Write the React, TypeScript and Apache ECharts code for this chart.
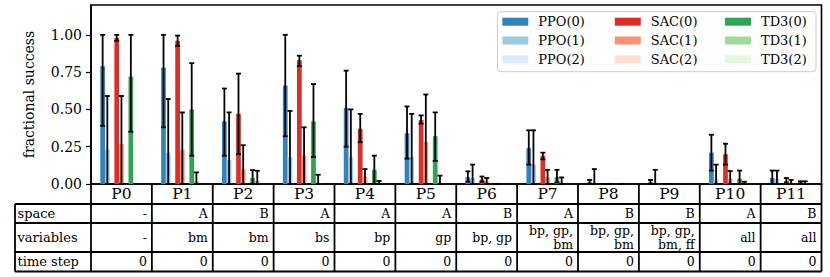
import React, { useEffect, useRef } from "react";
import * as echarts from "echarts";

// ---------- data ----------
const categories = ["P0", "P1", "P2", "P3", "P4", "P5", "P6", "P7", "P8", "P9", "P10", "P11"];
const seriesNames = ["PPO(0)", "PPO(1)", "PPO(2)", "SAC(0)", "SAC(1)", "SAC(2)", "TD3(0)", "TD3(1)", "TD3(2)"];
const seriesColors = ["#3182bd", "#9ecae1", "#deebf7", "#de2d26", "#fc9272", "#fee0d2", "#31a354", "#a1d99b", "#e5f5e0"];

const ppo0 = [0.79, 0.78, 0.42, 0.66, 0.51, 0.34, 0.045, 0.24, 0.013, 0.013, 0.21, 0.04];
const ppo0Err = [[0.39, 1.0], [0.38, 1.0], [0.19, 0.64], [0.32, 1.0], [0.25, 0.76], [0.17, 0.52], [0.015, 0.085], [0.13, 0.36], [0, 0.027], [0, 0.027], [0.09, 0.33], [0, 0.09]];
const ppo1 = [0.23, 0.21, 0.16, 0.18, 0.18, 0.18, 0.04, 0.13, 0.01, 0.01, 0.03, 0.033];
const ppo1Err = [[0, 0.59], [0, 0.57], [0, 0.48], [0, 0.49], [0, 0.5], [0, 0.47], [0, 0.13], [0, 0.36], [0, 0.1], [0, 0.095], [0, 0.13], [0, 0.09]];
const ppo2 = [null, null, null, null, null, null, null, null, null, null, null, null];
const ppo2Err = [null, null, null, null, null, null, null, null, null, null, null, null];

const sac0 = [0.98, 0.96, 0.47, 0.83, 0.37, 0.43, 0.03, 0.19, 0, 0, 0.2, 0.02];
const sac0Err = [[0.96, 1.0], [0.925, 0.995], [0.2, 0.74], [0.79, 0.86], [0.28, 0.47], [0.405, 0.46], [0.015, 0.05], [0.165, 0.21], [0, 0], [0, 0], [0.13, 0.27], [0.005, 0.04]];
const sac1 = [0.27, 0.23, 0.1, 0.19, 0.05, 0.28, 0.015, 0.045, 0, 0, 0.035, 0.01];
const sac1Err = [[0, 0.59], [0, 0.48], [0, 0.26], [0, 0.38], [0, 0.1], [0, 0.6], [0, 0.04], [0, 0.095], [0, 0], [0, 0], [0, 0.087], [0, 0.027]];
const sac2 = [null, null, null, null, null, null, null, null, null, null, null, null];
const sac2Err = [null, null, null, null, null, null, null, null, null, null, null, null];

const td30 = [0.72, 0.5, 0.04, 0.42, 0.095, 0.32, 0, 0.045, null, null, 0.035, 0.01];
const td30Err = [[0.35, 1.0], [0.19, 0.81], [0, 0.093], [0.18, 0.67], [0, 0.19], [0.155, 0.48], [0, 0], [0.01, 0.095], null, null, [0, 0.09], [0.003, 0.018]];
const td31 = [null, 0.02, 0.02, 0.01, 0.005, 0.01, null, 0.01, 0, null, 0.003, 0.005];
const td31Err = [null, [0, 0.078], [0, 0.089], [0, 0.062], [0, 0.02], [0, 0.056], null, [0, 0.044], [0, 0], null, [0, 0.015], [0, 0.018]];
const td32 = [null, null, null, null, null, null, null, null, null, null, null, null];
const td32Err = [null, null, null, null, null, null, null, null, null, null, null, null];

const yTicks = [0, 0.25, 0.5, 0.75, 1.0];

const rowLabels = ["space", "variables", "time step"];
const spaceRow = ["-", "A", "B", "A", "A", "A", "B", "A", "B", "B", "A", "B"];
const variablesRow = ["-", "bm", "bm", "bs", "bp", "gp", "bp, gp", "bp, gp,\nbm", "bp, gp,\nbm", "bp, gp,\nbm, ff", "all", "all"];
const timeStepRow = ["0", "0", "0", "0", "0", "0", "0", "0", "0", "0", "0", "0"];

// ---------- layout ----------
const W = 830;
const H = 277;
const GRID_LEFT = 91;
const GRID_RIGHT = 8.5;
const GRID_TOP = 5;
const AXIS_Y = 184;
const BAR_W = 4.7;
const CAP = 2.5;
const SERIF = '"DejaVu Serif", serif';
const TABLE_LEFT = 15;
const ROW_Y = [AXIS_Y, 204, 223, 252, 271.5];

export default function App() {
  const ref = useRef<HTMLDivElement>(null);

  useEffect(() => {
    if (!ref.current) return;
    const chart = echarts.init(ref.current, null, { renderer: "svg" });

    const values = [ppo0, ppo1, ppo2, sac0, sac1, sac2, td30, td31, td32];
    const errs = [ppo0Err, ppo1Err, ppo2Err, sac0Err, sac1Err, sac2Err, td30Err, td31Err, td32Err];

    const errData: number[][] = [];
    errs.forEach((arr, slot) => {
      arr.forEach((e, ci) => {
        if (e) errData.push([ci, e[0], e[1], slot]);
      });
    });

    const barSeries = seriesNames.map((name, i) => ({
      name,
      type: "bar",
      data: values[i],
      barWidth: BAR_W,
      barGap: "0%",
      itemStyle: { color: seriesColors[i] },
      emphasis: { disabled: true },
      z: 2,
    }));

    const errSeries = {
      name: "err",
      type: "custom",
      z: 3,
      clip: false,
      data: errData,
      encode: { x: 0, y: [1, 2] },
      renderItem: (params: any, api: any) => {
        const cat = api.value(0);
        const lo = api.value(1);
        const hi = api.value(2);
        const slot = api.value(3);
        const b = api.coord([cat, lo]);
        const t = api.coord([cat, hi]);
        const x = b[0] + (slot - 4) * BAR_W;
        const style = { stroke: "#000", lineWidth: 1.8, fill: null };
        return {
          type: "group",
          children: [
            { type: "line", shape: { x1: x, y1: b[1], x2: x, y2: t[1] }, style },
            { type: "line", shape: { x1: x - CAP, y1: t[1], x2: x + CAP, y2: t[1] }, style },
            { type: "line", shape: { x1: x - CAP, y1: b[1], x2: x + CAP, y2: b[1] }, style },
          ],
        };
      },
    };

    // table graphics
    const plotW = W - GRID_LEFT - GRID_RIGHT;
    const colW = plotW / categories.length;
    const right = GRID_LEFT + plotW;
    const g: any[] = [];
    const lineStyle = { stroke: "#000", lineWidth: 1.8 };
    for (let r = 1; r < ROW_Y.length; r++) {
      g.push({ type: "line", shape: { x1: TABLE_LEFT, y1: ROW_Y[r], x2: right, y2: ROW_Y[r] }, style: lineStyle });
    }
    g.push({ type: "line", shape: { x1: TABLE_LEFT, y1: ROW_Y[1], x2: TABLE_LEFT, y2: ROW_Y[4] }, style: lineStyle });
    for (let c = 0; c <= categories.length; c++) {
      const x = GRID_LEFT + c * colW;
      g.push({ type: "line", shape: { x1: x, y1: AXIS_Y, x2: x, y2: ROW_Y[4] }, style: lineStyle });
    }
    const rows = [spaceRow, variablesRow, timeStepRow];
    rows.forEach((row, ri) => {
      const yc = (ROW_Y[ri + 1] + ROW_Y[ri + 2]) / 2;
      g.push({
        type: "text",
        x: TABLE_LEFT + 2.5,
        y: yc,
        style: { text: rowLabels[ri], fill: "#000", fontSize: 13, fontFamily: SERIF, align: "left", verticalAlign: "middle" },
      });
      row.forEach((txt, ci) => {
        g.push({
          type: "text",
          x: GRID_LEFT + (ci + 1) * colW - 5,
          y: yc,
          style: {
            text: txt,
            fill: "#000",
            fontSize: 12.5,
            lineHeight: 13.5,
            fontFamily: SERIF,
            align: "right",
            verticalAlign: "middle",
          },
        });
      });
    });

    // legend frame
    g.push({
      type: "rect",
      z: 9,
      shape: { x: 497.5, y: 11.7, width: 318.5, height: 60, r: 3 },
      style: { fill: "rgba(255,255,255,0.8)", stroke: "#cccccc", lineWidth: 1 },
    });

    const legendCols = [502.3, 614.8, 725];
    const legends = legendCols.map((lx, k) => ({
      show: true,
      orient: "vertical",
      left: lx,
      top: 14.7,
      padding: 0,
      z: 10,
      itemWidth: 26,
      itemHeight: 8,
      itemGap: 4.8,
      icon: "rect",
      selectedMode: false,
      data: seriesNames.slice(k * 3, k * 3 + 3),
      textStyle: { fontFamily: SERIF, fontSize: 13, color: "#000", lineHeight: 14, padding: [0, 0, 0, 5] },
    }));

    chart.setOption({
      animation: false,
      backgroundColor: "#fff",
      grid: {
        left: GRID_LEFT,
        right: GRID_RIGHT,
        top: GRID_TOP,
        bottom: H - AXIS_Y,
        show: true,
        borderColor: "#000",
        borderWidth: 1.6,
        backgroundColor: "transparent",
      },
      legend: legends,
      xAxis: {
        type: "category",
        data: categories,
        axisLine: { show: true, lineStyle: { color: "#000", width: 1.6 } },
        axisTick: { show: false },
        axisLabel: { color: "#000", fontFamily: SERIF, fontSize: 15.5, margin: 2 },
        splitLine: { show: false },
      },
      yAxis: {
        type: "value",
        min: 0,
        max: 1.2,
        interval: 0.25,
        name: "fractional success",
        nameLocation: "middle",
        nameGap: 55,
        nameTextStyle: { color: "#000", fontFamily: SERIF, fontSize: 14 },
        axisLine: { show: true, lineStyle: { color: "#000", width: 1.6 } },
        axisTick: { show: true, length: 5, lineStyle: { color: "#000", width: 1.2 }, customValues: yTicks },
        axisLabel: {
          color: "#000",
          fontFamily: SERIF,
          fontSize: 14,
          margin: 9,
          customValues: yTicks,
          formatter: (v: number) => v.toFixed(2),
        },
        splitLine: { show: false },
      },
      graphic: g,
      series: [...barSeries, errSeries],
    });

    return () => chart.dispose();
  }, []);

  return (
    <div
      ref={ref}
      style={{ position: "fixed", left: 0, top: 0, width: W, height: H, background: "#fff" }}
    />
  );
}
